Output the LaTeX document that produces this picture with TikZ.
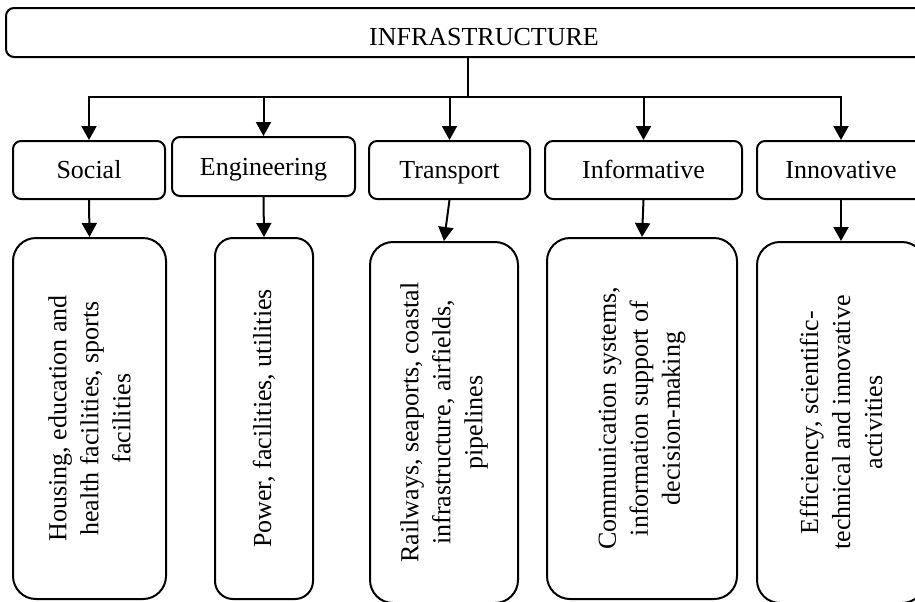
\documentclass[tikz,border=0pt]{standalone}
\usepackage{fontspec}
\setmainfont{Liberation Serif}
\usetikzlibrary{arrows.meta, positioning}

\begin{document}
\begin{tikzpicture}[
  x=0.5pt, y=-0.5pt,
  txt/.style={font=\fontsize{13}{16}\selectfont},
  root/.style={draw, line width=1pt, rounded corners=4pt, inner sep=0pt, txt,
               text height=13pt, text depth=0.5pt},
  kind/.style={draw, line width=1pt, rounded corners=4pt, inner sep=0pt, txt,
               minimum height=29pt, text height=11pt, text depth=2.4pt},
  item/.style={draw, line width=1pt, rounded corners=11.5pt, inner sep=0pt, txt,
               rotate=90, align=center, minimum width=180.5pt},
  arr/.style={-{Triangle[length=7pt, width=7.5pt]}, line width=1pt}
]
\useasboundingbox (0,0) rectangle (915,601);

% Top
\node[root, minimum width=478pt, minimum height=24.5pt] (infra) at (484,32.5) {INFRASTRUCTURE};
\coordinate (bus) at (468,97);

% Row 1
\node[kind, minimum width=76pt] (social) at (89,170) {Social};
\node[kind, minimum width=91.5pt, minimum height=29.5pt] (engin) at (263.5,166.5) {Engineering};
\node[kind, minimum width=80.5pt] (transp) at (449.5,170) {Transport};
\node[kind, minimum width=98.5pt] (inform) at (643.5,170) {Informative};
\node[kind, minimum width=84pt] (innov) at (841,170) {Innovative};

% Row 2 (turned by 90 degrees: east is on top)
\node[item, minimum height=76.5pt] (housing) at (89.5,418.5)
  {Housing, education and\\health facilities, sports\\facilities};
\node[item, minimum height=49pt, rounded corners=9pt] (power) at (264,418.5)
  {Power, facilities, utilities};
\node[item, minimum height=74pt] (rail) at (444,422.5)
  {Railways, seaports, coastal\\infrastructure, airfields,\\pipelines};
\node[item, minimum height=95pt] (comm) at (642,418.5)
  {Communication systems,\\information support of\\decision-making};
\node[item, minimum height=84pt] (effic) at (841,422.5)
  {Efficiency, scientific-\\technical and innovative\\activities};

\draw[arr] (bus |- infra.south) -- (bus) -| (social.north);
\draw[arr] (bus) -| (engin.north);
\draw[arr] (bus) -| (transp.north);
\draw[arr] (bus) -| (inform.north);
\draw[arr] (bus) -| (innov.north);

\draw[arr] (social.south) -- (housing.east);
\draw[arr] (engin.south) -- (power.east);
\draw[arr] (transp.south) -- (rail.east);
\draw[arr] (inform.south) -- (comm.east);
\draw[arr] (innov.south) -- (effic.east);
\end{tikzpicture}
\end{document}
